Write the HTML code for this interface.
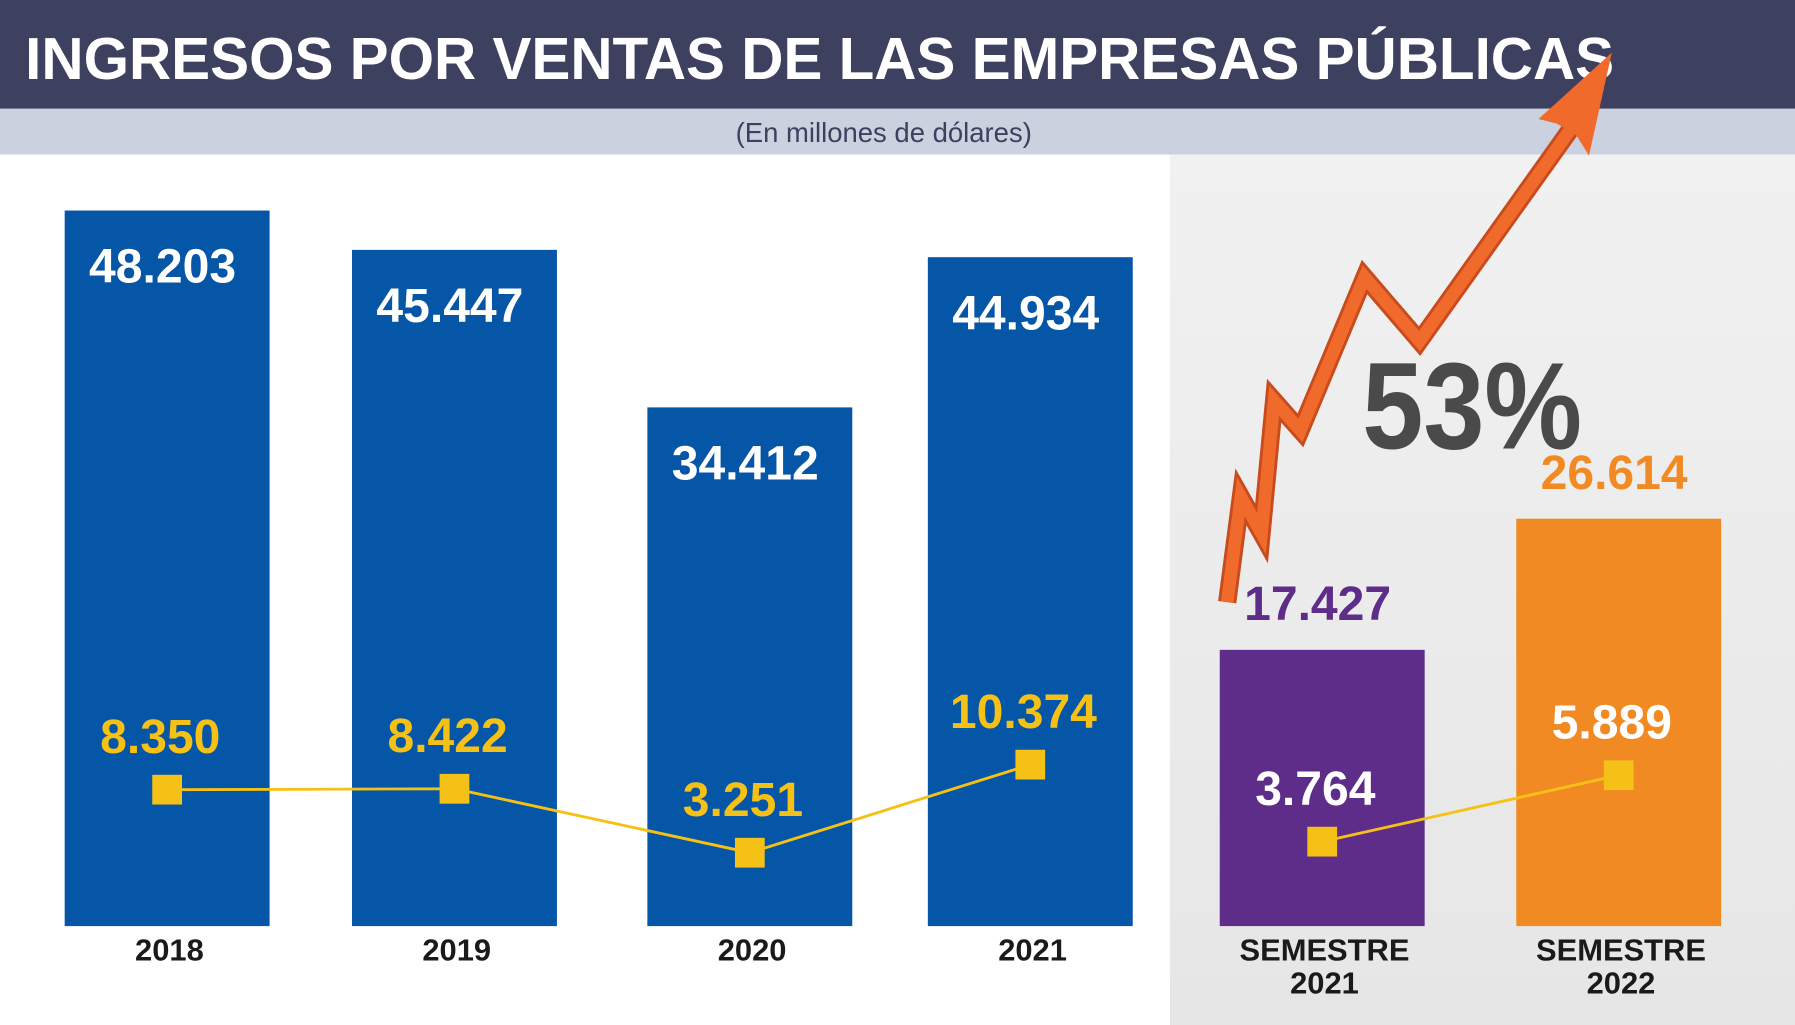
<!DOCTYPE html>
<html><head><meta charset="utf-8">
<style>
html,body{margin:0;padding:0;background:#fff;}
svg{display:block;font-family:"Liberation Sans",sans-serif;}
</style></head>
<body>
<svg id="chart" width="1795" height="1025" viewBox="0 0 1568 895.4" preserveAspectRatio="none" xmlns="http://www.w3.org/2000/svg">
<defs>
<linearGradient id="gr" x1="0" y1="0" x2="0" y2="1">
<stop offset="0" stop-color="#f1f1f1"/><stop offset="1" stop-color="#e6e6e6"/>
</linearGradient>
</defs>
<rect x="0" y="0" width="1568" height="896" fill="#fff"/>
<rect x="1022" y="135" width="546" height="761" fill="url(#gr)"/>
<rect x="0" y="0" width="1568" height="95" fill="#3e405f"/>
<text x="22" y="69" fill="#fff" font-size="52" font-weight="bold" textLength="1388" lengthAdjust="spacingAndGlyphs">INGRESOS POR VENTAS DE LAS EMPRESAS PÚBLICAS</text>
<rect x="0" y="95" width="1568" height="40" fill="#cbd1df"/>
<text x="772" y="124" fill="#3e405f" font-size="24" text-anchor="middle">(En millones de dólares)</text>
<g id="bars"></g>
<g id="line"></g>
<g id="arrow">
<polyline points="1072,526 1084,434 1102,466 1113,350 1136,376 1192,242 1240,298 1374,110" fill="none" stroke="#c94a1c" stroke-width="16" stroke-linejoin="miter"/>
<polyline points="1072,526 1084,434 1102,466 1113,350 1136,376 1192,242 1240,298 1374,110" fill="none" stroke="#ef6a2b" stroke-width="11" stroke-linejoin="miter"/>
<polygon points="1408,46 1388,136 1377,118 1360,108 1344,104" fill="#ef6a2b"/>
</g>
<text x="1190" y="392" fill="#4a4a4a" font-size="108" font-weight="bold" textLength="192" lengthAdjust="spacingAndGlyphs">53%</text>
</svg>
<script>
const categories = ["2018","2019","2020","2021","SEMESTRE|2021","SEMESTRE|2022"];
const revenue = [48203,45447,34412,44934,17427,26614];
const revenueLabels = ["48.203","45.447","34.412","44.934","17.427","26.614"];
const secondary = [8350,8422,3251,10374,3764,5889];
const secondaryLabels = ["8.350","8.422","3.251","10.374","3.764","5.889"];
const barColors = ["#0556a6","#0556a6","#0556a6","#0556a6","#5e2d8a","#f28a24"];

const NS="http://www.w3.org/2000/svg";
const xCenters=[146,397,655,900,1155,1414];
const barW=179, base=809;
function yBar(v){return base - (24 + v*0.01247);}
function yLine(v,i){return i<4 ? 780 - v*0.0108 : 838 - v*0.0273;}
function mk(t,a,p){const e=document.createElementNS(NS,t);for(const k in a)e.setAttribute(k,a[k]);p.appendChild(e);return e;}
const gb=document.getElementById('bars'), gl=document.getElementById('line');
categories.forEach((c,i)=>{
  const x=xCenters[i]-barW/2, y=yBar(revenue[i]);
  const r=mk('rect',{x:x,y:y,width:barW,height:base-y,fill:barColors[i]},gb);
  
  
  const inside=i<4;
  const t=mk('text',{x:xCenters[i]-4,y:inside?y+63:y-26,fill:inside?'#fff':barColors[i],'font-size':42,'font-weight':'bold','text-anchor':'middle'},gb);
  t.textContent=revenueLabels[i];
  
  
  const parts=c.split('|');
  parts.forEach((p,j)=>{
    const ct=mk('text',{x:xCenters[i]+2,y:839+j*29,fill:'#1a1a1a','font-size':27,'font-weight':'bold','text-anchor':'middle'},gb);
    ct.textContent=p;
    
    
  });
});
function drawSeg(a,b){
  const l=mk('line',{x1:xCenters[a],y1:yLine(secondary[a],a),x2:xCenters[b],y2:yLine(secondary[b],b),stroke:'#f6c117','stroke-width':2.5},gl);
  
  
}
drawSeg(0,1);drawSeg(1,2);drawSeg(2,3);drawSeg(4,5);
secondary.forEach((v,i)=>{
  const y=yLine(v,i);
  const m=mk('rect',{x:xCenters[i]-13,y:y-13,width:26,height:26,fill:'#f6c117'},gl);
  
  
  const t=mk('text',{x:xCenters[i]-6,y:y-32,fill:i<4?'#f6c117':'#fff','font-size':42,'font-weight':'bold','text-anchor':'middle'},gl);
  t.textContent=secondaryLabels[i];
  
  
});
</script>
</body></html>
